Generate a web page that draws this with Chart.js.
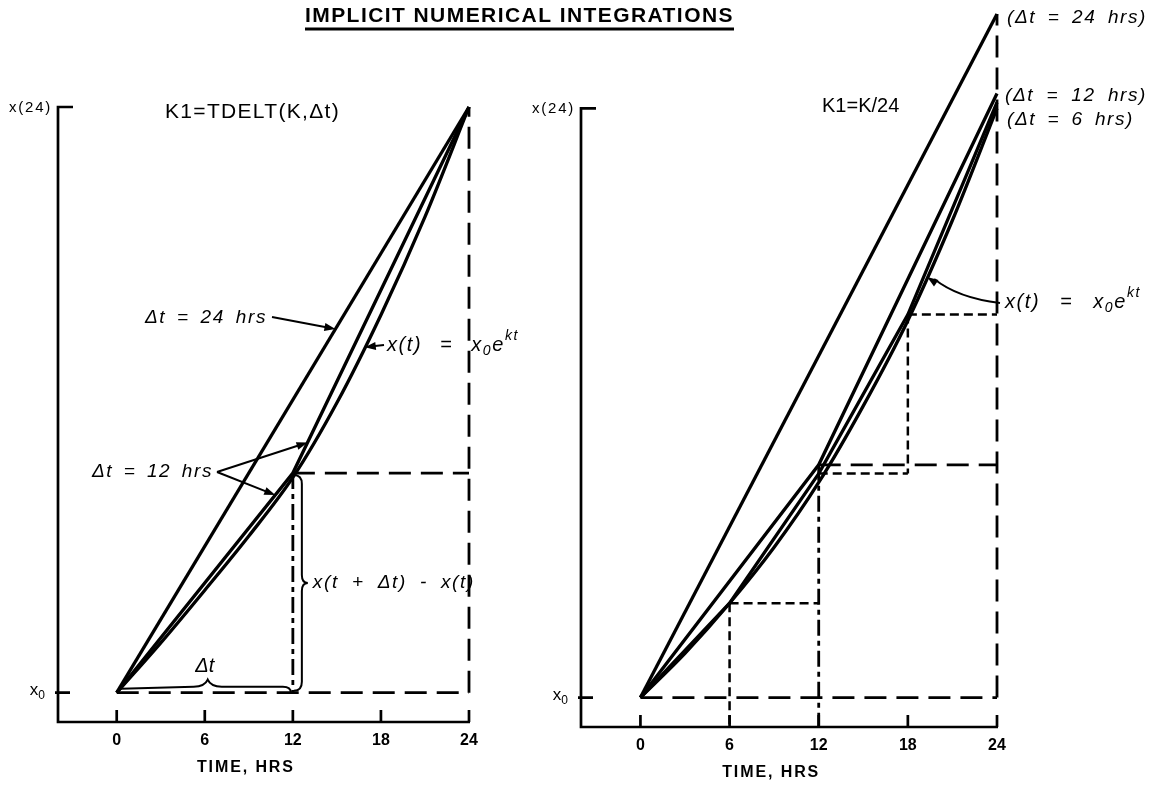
<!DOCTYPE html>
<html>
<head>
<meta charset="utf-8">
<title>Implicit numerical integrations</title>
<script src="https://cdn.jsdelivr.net/npm/chart.js@4.4.1/dist/chart.umd.min.js"></script>
<style>
  html, body { margin: 0; padding: 0; background: #fff; }
  body { width: 1159px; height: 785px; position: relative; overflow: hidden; }
  canvas { position: absolute; left: 0; top: 0; }
</style>
</head>
<body>
<canvas id="leftChart" width="1159" height="785"></canvas>
<canvas id="rightChart" width="1159" height="785"></canvas>
<script>
// Axis ticks and levels
const timeTicks = ['0', '6', '12', '18', '24'];
const x0Level = 1.0;
const x24Level = 3.0;

// Exact solution x(t) = x0 e^kt
const exactHours = [0, 3, 6, 9, 12, 15, 18, 21, 24];
const leftExactValues = [1.00, 1.17, 1.35, 1.535, 1.735, 1.99, 2.29, 2.625, 3.00];
const rightExactValues = [1.00, 1.15, 1.32, 1.51, 1.73, 1.99, 2.28, 2.62, 3.00];

// Left panel, K1 = TDELT(K, dt)
const leftHours24 = [0, 24];
const leftValues24 = [1.00, 3.00];
const leftHours12 = [0, 12, 24];
const leftValues12 = [1.00, 1.75, 3.00];

// Right panel, K1 = K/24
const rightHours24 = [0, 24];
const rightValues24 = [1.00, 3.32];
const rightHours12 = [0, 12, 24];
const rightValues12 = [1.00, 1.79, 3.05];
const rightHours6 = [0, 6, 12, 18, 24];
const rightValues6 = [1.00, 1.32, 1.76, 2.30, 3.02];

const FONT = '"Liberation Sans", Arial, sans-serif';
const LONG_DASH = [22, 10];
const SHORT_DASH = [9, 5];
const DASH_DOT = [16, 5, 5, 5];

const pts = (hs, vs) => hs.map((h, i) => ({ x: h, y: vs[i] }));

function solid(hs, vs, smooth) {
  return {
    data: pts(hs, vs), borderColor: '#000', borderWidth: 3.3, pointRadius: 0,
    fill: false, clip: false, tension: 0,
    cubicInterpolationMode: smooth ? 'monotone' : 'default'
  };
}

function guide(hs, vs, dash, width) {
  return {
    data: pts(hs, vs), borderColor: '#000', borderWidth: width || 2.8, borderDash: dash,
    borderCapStyle: 'butt', pointRadius: 0, fill: false, clip: false, tension: 0
  };
}

// linear read along a series, only used to aim the arrows
function valueAt(hs, vs, h) {
  for (let i = 1; i < hs.length; i++) {
    if (h <= hs[i]) return vs[i - 1] + (h - hs[i - 1]) / (hs[i] - hs[i - 1]) * (vs[i] - vs[i - 1]);
  }
  return vs[vs.length - 1];
}

// no-space strings: spread with letter spacing
function fitText(ctx, text, x, y, width, font, align) {
  ctx.font = font;
  ctx.letterSpacing = '0px';
  const w = ctx.measureText(text).width;
  const ls = (width - w) / text.length;
  let sx = x;
  if (align === 'center') sx = x - width / 2;
  if (align === 'right') sx = x - width;
  ctx.letterSpacing = ls.toFixed(2) + 'px';
  ctx.textAlign = 'left';
  ctx.fillText(text, sx, y);
  ctx.letterSpacing = '0px';
}

// runs of text (with sub/superscripts); extra width goes partly to letters, rest to spaces
function runs(ctx, parts, x, y, size, style, width, align) {
  const fontFor = p => `${style} ${p.sub || p.sup ? Math.round(size * 0.7) : size}px ${FONT}`;
  ctx.letterSpacing = '0px';
  ctx.textAlign = 'left';
  let w = 0, spaces = 0, chars = 0;
  parts.forEach(p => {
    ctx.font = fontFor(p);
    w += ctx.measureText(p.t).width;
    spaces += (p.t.match(/ /g) || []).length;
    chars += p.t.replace(/ /g, '').length;
  });
  const E = width ? width - w : 0;
  const ls = spaces ? Math.max(0, Math.min(E * 0.5 / chars, 1.6)) : E / chars;
  const extra = spaces ? (E - ls * chars) / spaces : 0;
  const total = w + ls * chars + extra * spaces;
  let cx = align === 'right' ? x - total : align === 'center' ? x - total / 2 : x;
  parts.forEach(p => {
    ctx.font = fontFor(p);
    const dy = p.sub ? size * 0.32 : p.sup ? -size * 0.42 : 0;
    const sp = ctx.measureText(' ').width + extra;
    p.t.split(' ').forEach((word, i) => {
      if (i > 0) cx += sp;
      if (!word) return;
      ctx.letterSpacing = '0px';
      const ww = ctx.measureText(word).width + ls * word.length;
      ctx.letterSpacing = ls.toFixed(2) + 'px';
      ctx.fillText(word, cx, y + dy);
      cx += ww;
    });
  });
  ctx.letterSpacing = '0px';
}

function arrowHead(ctx, x2, y2, a) {
  const L = 11, W = 4;
  ctx.beginPath();
  ctx.moveTo(x2, y2);
  ctx.lineTo(x2 - L * Math.cos(a) + W * Math.sin(a), y2 - L * Math.sin(a) - W * Math.cos(a));
  ctx.lineTo(x2 - L * Math.cos(a) - W * Math.sin(a), y2 - L * Math.sin(a) + W * Math.cos(a));
  ctx.closePath();
  ctx.fill();
}

function arrow(ctx, x1, y1, x2, y2) {
  const a = Math.atan2(y2 - y1, x2 - x1);
  ctx.beginPath();
  ctx.moveTo(x1, y1);
  ctx.lineTo(x2 - 8 * Math.cos(a), y2 - 8 * Math.sin(a));
  ctx.stroke();
  arrowHead(ctx, x2, y2, a);
}

const expLabel = [{ t: 'x(t) = x' }, { t: '0', sub: true }, { t: 'e' }, { t: 'kt', sup: true }];

// axes + notes drawn from the chart scales
function panelPlugin(name, notes) {
  return {
    id: 'panel_' + name,
    afterDatasetsDraw(chart) {
      const { ctx } = chart;
      const sx = chart.scales.x, sy = chart.scales.y;
      const X = h => sx.getPixelForValue(h), Y = v => sy.getPixelForValue(v);
      const ax = X(sx.min), ab = Y(sy.min);
      const top = Y(x24Level), base = Y(x0Level);
      ctx.save();
      ctx.strokeStyle = '#000';
      ctx.fillStyle = '#000';
      ctx.lineWidth = 2.7;
      ctx.lineCap = 'butt';
      ctx.beginPath();
      ctx.moveTo(ax + 15, top);
      ctx.lineTo(ax, top);
      ctx.lineTo(ax, ab);
      ctx.lineTo(X(24) + 1, ab);
      ctx.stroke();
      ctx.beginPath();
      timeTicks.forEach(t => { const px = X(+t); ctx.moveTo(px, ab); ctx.lineTo(px, ab - 12); });
      ctx.moveTo(ax - 3, base);
      ctx.lineTo(ax + 12, base);
      ctx.stroke();

      ctx.textBaseline = 'middle';
      ctx.textAlign = 'center';
      ctx.font = `bold 16px ${FONT}`;
      timeTicks.forEach(t => ctx.fillText(t, X(+t), ab + 19));
      fitText(ctx, 'TIME, HRS', X(8.8), ab + 46, 98, `bold 16px ${FONT}`, 'center');
      fitText(ctx, 'x(24)', ax - 6, top + 1, 43, `15px ${FONT}`, 'right');
      runs(ctx, [{ t: 'x' }, { t: '0', sub: true }], ax - 13, base - 2, 17, 'normal', 0, 'right');

      ctx.lineWidth = 2;
      notes(ctx, X, Y);
      ctx.restore();
    }
  };
}

function leftNotes(ctx, X, Y) {
  // title
  fitText(ctx, 'IMPLICIT NUMERICAL INTEGRATIONS', 305, 16, 429, `bold 21px ${FONT}`);
  ctx.lineWidth = 3;
  ctx.beginPath(); ctx.moveTo(305, 29); ctx.lineTo(734, 29); ctx.stroke();
  ctx.lineWidth = 2;

  fitText(ctx, 'K1=TDELT(K,\u0394t)', 165, 112, 175, `21px ${FONT}`);

  runs(ctx, [{ t: '\u0394t = 24 hrs' }], 145, 318, 19, 'italic', 122);
  const h24 = 14.9;
  arrow(ctx, 272, 317, X(h24), Y(valueAt(leftHours24, leftValues24, h24)));

  runs(ctx, expLabel, 387, 345, 20, 'italic', 132);
  const he = 16.9;
  arrow(ctx, 384, 345, X(he), Y(valueAt(exactHours, leftExactValues, he)));

  runs(ctx, [{ t: '\u0394t = 12 hrs' }], 92, 472, 19, 'italic', 121);
  const hUp = 13.0, hDown = 10.8;
  arrow(ctx, 217, 472, X(hUp), Y(valueAt(leftHours12, leftValues12, hUp)));
  arrow(ctx, 217, 472, X(hDown), Y(valueAt(leftHours12, leftValues12, hDown)));

  // vertical brace x(t + dt) - x(t)
  const bx = X(12), bTop = Y(leftValues12[1]) + 2, bBot = Y(x0Level) - 2, bMid = (bTop + bBot) / 2;
  ctx.beginPath();
  ctx.moveTo(bx + 1, bTop);
  ctx.quadraticCurveTo(bx + 9, bTop, bx + 9, bTop + 9);
  ctx.lineTo(bx + 9, bMid - 8);
  ctx.quadraticCurveTo(bx + 9, bMid, bx + 15, bMid);
  ctx.quadraticCurveTo(bx + 9, bMid, bx + 9, bMid + 8);
  ctx.lineTo(bx + 9, bBot - 9);
  ctx.quadraticCurveTo(bx + 9, bBot, bx + 1, bBot);
  ctx.stroke();
  runs(ctx, [{ t: 'x(t + \u0394t) - x(t)' }], bx + 20, bMid, 19, 'italic', 162);

  // horizontal brace dt
  const hx0 = X(0) + 4, hx1 = X(12) - 2, hy = Y(x0Level) - 6, hMid = X(6.2);
  ctx.beginPath();
  ctx.moveTo(hx0, hy + 2);
  ctx.lineTo(hMid - 14, hy);
  ctx.quadraticCurveTo(hMid - 3, hy, hMid, hy - 7);
  ctx.quadraticCurveTo(hMid + 3, hy, hMid + 14, hy);
  ctx.lineTo(hx1 - 8, hy);
  ctx.quadraticCurveTo(hx1, hy, hx1, hy + 6);
  ctx.stroke();
  runs(ctx, [{ t: '\u0394t' }], hMid - 3, hy - 20, 20, 'italic', 0, 'center');
}

function rightNotes(ctx, X, Y) {
  runs(ctx, [{ t: 'K1=K/24' }], 822, 106, 20, 'normal');

  runs(ctx, [{ t: '(\u0394t = 24 hrs)' }], 1007, 18, 19, 'italic', 140);
  runs(ctx, [{ t: '(\u0394t = 12 hrs)' }], 1005, 96, 19, 'italic', 142);
  runs(ctx, [{ t: '(\u0394t = 6 hrs)' }], 1007, 120, 19, 'italic', 127);

  runs(ctx, expLabel, 1005, 302, 20, 'italic', 136);
  const he = 19.3;
  const tx = X(he), ty = Y(valueAt(exactHours, rightExactValues, he));
  const cx = 958, cy = 298;
  ctx.beginPath();
  ctx.moveTo(1000, 303);
  ctx.quadraticCurveTo(cx, cy, tx + 7, ty + 2);
  ctx.stroke();
  arrowHead(ctx, tx, ty, Math.atan2(ty - cy, tx - cx));
}

function makeChart(id, datasets, yMax, padding, plugin) {
  return new Chart(document.getElementById(id), {
    type: 'line',
    data: { datasets },
    options: {
      responsive: false,
      animation: false,
      events: [],
      layout: { padding },
      scales: {
        x: { type: 'linear', min: -4, max: 24, display: false },
        y: { type: 'linear', min: 0.9, max: yMax, display: false }
      },
      plugins: { legend: { display: false }, tooltip: { enabled: false } }
    },
    plugins: [plugin]
  });
}

// Left panel
const l12 = leftValues12[1];
makeChart('leftChart', [
  guide([0, 24], [x0Level, x0Level], LONG_DASH),
  guide([24, 24], [x0Level, x24Level], LONG_DASH),
  guide([12, 24], [l12, l12], LONG_DASH),
  guide([12, 12], [l12, x0Level], DASH_DOT),
  solid(leftHours24, leftValues24),
  solid(leftHours12, leftValues12),
  solid(exactHours, leftExactValues, true)
], x24Level, { left: 58, right: 1159 - 469, top: 107, bottom: 785 - 722 }, panelPlugin('left', leftNotes));

// Right panel
const r12 = rightValues12[1];
const r6 = rightValues6;
makeChart('rightChart', [
  guide([0, 24], [x0Level, x0Level], LONG_DASH),
  guide([24, 24], [x0Level, rightValues24[1]], LONG_DASH),
  guide([12, 24], [r12, r12], LONG_DASH),
  guide([12, 12], [r12, 0.9], DASH_DOT),
  guide([6, 6], [r6[1], 0.9], SHORT_DASH, 2.5),
  guide([6, 12], [r6[1], r6[1]], SHORT_DASH, 2.5),
  guide([12, 18], [r6[2], r6[2]], SHORT_DASH, 2.5),
  guide([18, 18], [r6[3], r6[2]], SHORT_DASH, 2.5),
  guide([18, 24], [r6[3], r6[3]], SHORT_DASH, 2.5),
  solid(rightHours24, rightValues24),
  solid(rightHours12, rightValues12),
  solid(rightHours6, rightValues6),
  solid(exactHours, rightExactValues, true)
], rightValues24[1], { left: 581, right: 1159 - 997, top: 14, bottom: 785 - 727 }, panelPlugin('right', rightNotes));
</script>
</body>
</html>
